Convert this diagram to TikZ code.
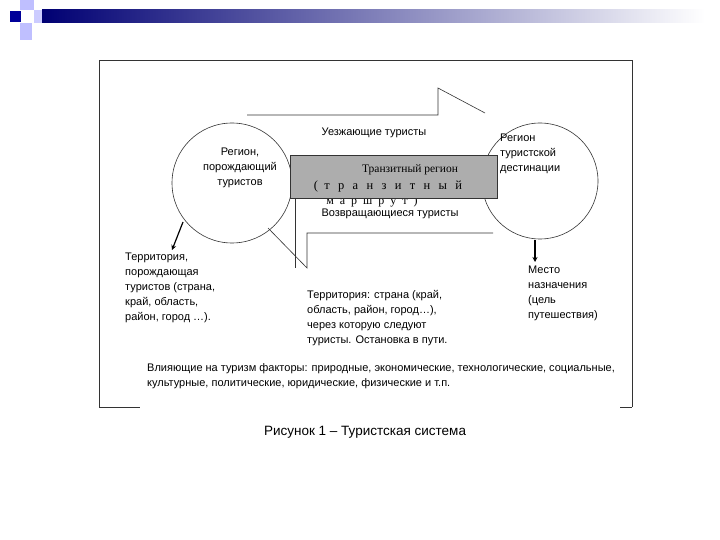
\documentclass[tikz,border=0pt]{standalone}
\usetikzlibrary{arrows.meta}
\usepackage{fontspec}
\setmainfont{Liberation Sans}
\newfontfamily\serifx{Liberation Serif}
\begin{document}
\begin{tikzpicture}[x=1pt,y=-1pt,
  ln/.style={line width=0.6pt,black!80},
  txt/.style={font=\fontsize{11}{15}\selectfont,inner sep=0pt},
  arr/.style={line width=1.2pt,-{Stealth[length=5pt,width=5pt]}}]
\useasboundingbox (0,0) rectangle (720,540);
\fill[white] (0,0) rectangle (720,540);
% decoration
\shade[left color=blue!45!black,right color=white] (42,10) rectangle (705,23);
\fill[blue!25!white] (20,0) rectangle (34,10);
\fill[blue!25!white] (20,23) rectangle (32,40);
\fill[blue!20!white] (34,10) rectangle (42,23);
\fill[blue!60!black] (10,11) rectangle (21,22);
% frame
\draw[ln] (99,407) -- (99,60) -- (632,60) -- (632,407);
\draw[ln] (99,407) -- (140,407);
\draw[ln] (620,407) -- (632,407);
% arrows outlines
\draw[ln] (247,115) -- (438,115) -- (438,88) -- (485,113);
\draw[ln] (493,233) -- (307,233) -- (307,268) -- (268,228);
\draw[ln] (295,198) -- (295,268);
% circles
\node[draw,ln,circle,minimum size=120pt] (L) at (232,183) {};
\node[draw,ln,circle,minimum size=116pt] (R) at (540,181) {};
% transit text
\node[txt,font=\serifx\fontsize{12}{12}\selectfont] (tm) at (372,202) {м\,\,\,а\,\,\,р\,\,\,ш\,\,\,р\,\,\,у\,\,\,т\,\,\,)};
\node[draw,ln,fill=black!32,minimum width=207pt,minimum height=43pt,inner sep=0pt] (box) at (393.5,176.5) {};
\node[txt,font=\serifx\fontsize{11.5}{12}\selectfont] (tr) at (410,170) {Транзитный регион};
\node[txt,font=\serifx\fontsize{12.5}{12}\selectfont] (tt) at (388,186) {(\,\,\,т\,\,\,\,р\,\,\,\,а\,\,\,\,н\,\,\,\,з\,\,\,\,и\,\,\,\,т\,\,\,\,н\,\,\,\,ы\,\,\,\,й};
\node[txt] (u) at (374,133) {Уезжающие туристы};
\node[txt] (v) at (390,214) {Возвращающиеся туристы};
\node[txt,align=center] (lt) at (240,168) {Регион,\\порождающий\\туристов};
\node[txt,align=left,anchor=west] (rt) at (500,154) {Регион\\туристской\\дестинации};
% pointers
\coordinate (a1) at (183,222);
\coordinate (a2) at (535,240);
\node[txt,align=left,anchor=north west] (t1) at (125,253) {Территория,\\порождающая\\туристов (страна,\\край, область,\\район, город …).};
\node[txt,align=left,anchor=north west] (t2) at (307,290) {Территория: страна (край,\\область, район, город…),\\через которую следуют\\туристы. Остановка в пути.};
\node[txt,align=left,anchor=north west] (t3) at (528,266) {Место\\назначения\\(цель\\путешествия)};
\draw[arr] (a1) -- (172,250);
\draw[arr] (a2) -- (535,262);
\node[txt,align=left,anchor=north west] (b) at (147,363) {Влияющие на туризм факторы: природные, экономические, технологические, социальные,\\культурные, политические, юридические, физические и т.п.};
\node[font=\fontsize{13.5}{16}\selectfont,inner sep=0pt] (cap) at (365,432) {Рисунок 1 – Туристская система};
\end{tikzpicture}
\end{document}
